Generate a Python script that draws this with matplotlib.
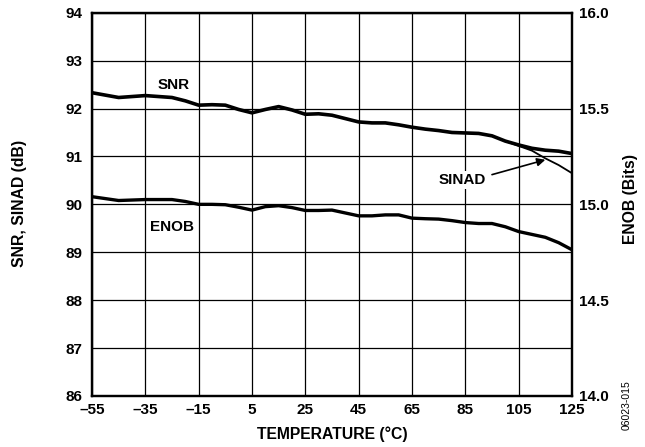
import matplotlib
matplotlib.use("Agg")
import matplotlib.pyplot as plt

plt.rcParams['font.family'] = ['Liberation Sans', 'DejaVu Sans']

temp = [-55, -45, -35, -25, -20, -15, -10, -5, 0, 5, 10, 15, 20, 25, 30, 35, 40, 45,
        50, 55, 60, 65, 70, 75, 80, 85, 90, 95, 100, 105, 110, 115, 120, 125]
snr = [92.33, 92.23, 92.27, 92.23, 92.16, 92.07, 92.08, 92.07, 91.98, 91.91, 91.98, 92.04,
       91.97, 91.88, 91.89, 91.86, 91.79, 91.72, 91.70, 91.70, 91.66, 91.61, 91.57, 91.54,
       91.50, 91.49, 91.48, 91.43, 91.32, 91.24, 91.17, 91.13, 91.11, 91.06]
sinad = [92.33, 92.23, 92.27, 92.23, 92.16, 92.07, 92.08, 92.07, 91.98, 91.91, 91.98, 92.04,
         91.97, 91.88, 91.89, 91.86, 91.79, 91.72, 91.70, 91.70, 91.66, 91.61, 91.57, 91.54,
         91.50, 91.49, 91.48, 91.43, 91.32, 91.22, 91.12, 90.96, 90.82, 90.65]
enob = [15.04, 15.02, 15.025, 15.025, 15.015, 15.0, 15.0, 14.998, 14.985, 14.97, 14.988,
        14.993, 14.983, 14.968, 14.968, 14.97, 14.955, 14.94, 14.94, 14.945, 14.945, 14.928,
        14.925, 14.923, 14.915, 14.905, 14.90, 14.90, 14.883, 14.858, 14.843, 14.828, 14.80,
        14.763]

xticks = [-55, -35, -15, 5, 25, 45, 65, 85, 105, 125]
xticklabels = ['–55', '–35', '–15', '5', '25', '45', '65', '85', '105', '125']
yticks = [86, 87, 88, 89, 90, 91, 92, 93, 94]
y2ticks = [14.0, 14.5, 15.0, 15.5, 16.0]
y2ticklabels = ['14.0', '14.5', '15.0', '15.5', '16.0']

TICK_FS = 11
LABEL_FS = 11.3

fig = plt.figure(figsize=(6.45, 4.47), dpi=100)
ax = fig.add_axes([0.1426, 0.1141, 0.7442, 0.8575])
ax.set_xlim(-55, 125)
ax.set_ylim(86, 94)
ax.set_xticks(xticks)
ax.set_xticklabels(xticklabels)
ax.set_yticks(yticks)
ax.grid(True, color='black', linewidth=0.9)
ax.set_axisbelow(True)
for s in ax.spines.values():
    s.set_linewidth(1.6)
ax.tick_params(axis='y', length=0, pad=7, labelsize=TICK_FS)
ax.tick_params(axis='x', length=0, pad=5, labelsize=TICK_FS)
for lab in ax.get_xticklabels() + ax.get_yticklabels():
    lab.set_fontweight('bold')

ax.plot(temp, sinad, color='black', linewidth=1.3, zorder=3)
ax.plot(temp, snr, color='black', linewidth=2.6, zorder=4, solid_capstyle='butt')

ax2 = ax.twinx()
ax2.set_ylim(14.0, 16.0)
ax2.set_yticks(y2ticks)
ax2.set_yticklabels(y2ticklabels)
ax2.tick_params(length=0, pad=5, labelsize=TICK_FS)
for lab in ax2.get_yticklabels():
    lab.set_fontweight('bold')
for s in ax2.spines.values():
    s.set_linewidth(1.6)
ax2.plot(temp, enob, color='black', linewidth=2.4, solid_capstyle='butt')

ax.set_xlabel('TEMPERATURE (°C)', fontsize=LABEL_FS, fontweight='bold', labelpad=7)
fig.text(0.031, 0.545, 'SNR, SINAD (dB)', fontsize=LABEL_FS, fontweight='bold',
         rotation=90, ha='center', va='center')
fig.text(0.978, 0.555, 'ENOB (Bits)', fontsize=LABEL_FS, fontweight='bold',
         rotation=90, ha='center', va='center')

ax.text(-24.5, 92.49, 'SNR', fontsize=TICK_FS, fontweight='bold', ha='center', va='center')
ax.text(-25, 89.53, 'ENOB', fontsize=TICK_FS, fontweight='bold', ha='center', va='center')
ax.text(84, 90.51, 'SINAD', fontsize=TICK_FS, fontweight='bold', ha='center', va='center',
        bbox=dict(facecolor='white', edgecolor='none', pad=1.5))
ax.annotate('', xy=(115, 90.93), xytext=(95, 90.62),
            arrowprops=dict(arrowstyle='-|>', color='black', lw=1.2,
                            mutation_scale=12, shrinkA=0, shrinkB=0))

fig.text(0.972, 0.094, '06023-015', fontsize=7.5, rotation=90, ha='center', va='center')

fig.savefig('out.png', dpi=100)
